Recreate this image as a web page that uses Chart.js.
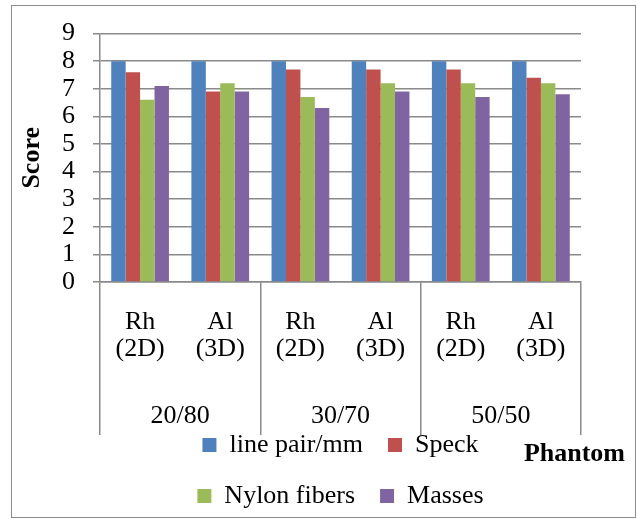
<!DOCTYPE html>
<html>
<head>
<meta charset="utf-8">
<script src="https://cdn.jsdelivr.net/npm/chart.js@4/dist/chart.umd.min.js"></script>
<style>
  html, body { margin: 0; padding: 0; background: #ffffff; }
  #wrap { position: relative; width: 637px; height: 519px; }
  #frame {
    position: absolute; left: 11px; top: 5px; width: 625px; height: 513px;
    box-sizing: border-box; border: 1.5px solid #8c8c8c;
  }
  #c { position: absolute; left: 0; top: 0; }
</style>
</head>
<body>
<div id="wrap">
  <div id="frame"></div>
  <canvas id="c" width="637" height="519"></canvas>
</div>
<script>
// Anode/filter per phantom composition
const categories = [['Rh', '(2D)'], ['Al', '(3D)'], ['Rh', '(2D)'], ['Al', '(3D)'], ['Rh', '(2D)'], ['Al', '(3D)']];
const phantomGroups = ['20/80', '30/70', '50/50'];
const yTickStep = 1;

// Scores per test object
const linePair = [8, 8, 8, 8, 8, 8];
const speck = [7.6, 6.9, 7.7, 7.7, 7.7, 7.4];
const nylonFibers = [6.6, 7.2, 6.7, 7.2, 7.2, 7.2];
const masses = [7.1, 6.9, 6.3, 6.9, 6.7, 6.8];

const serif = "'Liberation Serif', 'Times New Roman', Times, 'DejaVu Serif', serif";
const gridGray = '#8a8a8a';

Chart.defaults.font.family = serif;
Chart.defaults.font.weight = 'normal';
Chart.defaults.color = '#000';

new Chart(document.getElementById('c'), {
  type: 'bar',
  data: {
    labels: categories,
    datasets: [
      { label: 'line pair/mm', data: linePair, backgroundColor: '#4F81BD' },
      { label: 'Speck', data: speck, backgroundColor: '#C0504D' },
      { label: 'Nylon fibers', data: nylonFibers, backgroundColor: '#9BBB59' },
      { label: 'Masses', data: masses, backgroundColor: '#8064A2' }
    ]
  },
  options: {
    responsive: false,
    animation: false,
    devicePixelRatio: 1,
    layout: { padding: { top: 32, left: 13, right: 12, bottom: 0 } },
    datasets: { bar: { categoryPercentage: 0.72, barPercentage: 1.0, borderWidth: 0 } },
    scales: {
      x: {
        type: 'category',
        position: 'bottom',
        offset: true,
        grid: {
          offset: true,
          drawOnChartArea: false,
          drawTicks: true,
          tickLength: 153,
          lineWidth: 1.5,
          // separators only between phantom groups
          color: ctx => (ctx.index === undefined || ctx.index % 2 === 0) ? gridGray : 'rgba(0,0,0,0)'
        },
        border: { display: true, color: gridGray, width: 1.5 },
        ticks: {
          color: '#000',
          font: { family: serif, size: 26, weight: 'normal', lineHeight: 1.05 },
          padding: -126.65,
          maxRotation: 0,
          autoSkip: false
        },
        afterFit: scale => { scale.height = 100; }
      },
      x2: {
        type: 'category',
        position: 'bottom',
        labels: phantomGroups,
        offset: true,
        grid: { display: false, drawTicks: false },
        border: { display: false },
        ticks: {
          color: '#000',
          font: { family: serif, size: 26, weight: 'normal', lineHeight: 1.2 },
          mirror: true,
          padding: -49.6,
          maxRotation: 0,
          autoSkip: false
        },
        afterFit: scale => { scale.height = 25; }
      },
      y: {
        min: 0,
        max: 9,
        grid: { color: gridGray, lineWidth: 1.5, drawTicks: true, tickLength: 7 },
        border: { display: true, color: gridGray, width: 1.5 },
        ticks: {
          stepSize: yTickStep,
          autoSkip: false,
          color: '#000',
          font: { family: serif, size: 26, weight: 'normal' },
          padding: 18
        },
        title: {
          display: true,
          text: 'Score',
          color: '#000',
          font: { family: serif, size: 26, weight: 'bold', lineHeight: 1.2 },
          padding: { top: 4, bottom: 4 }
        },
        afterFit: scale => { scale.width = 87; }
      },
      yRight: {
        type: 'linear',
        position: 'right',
        display: true,
        grid: { display: false },
        border: { display: false },
        ticks: { display: false },
        afterFit: scale => { scale.width = 44; }
      }
    },
    plugins: {
      legend: {
        display: true,
        position: 'bottom',
        fullSize: false,
        labels: {
          color: '#000',
          font: { family: serif, size: 26, weight: 'normal' },
          boxWidth: 14,
          boxHeight: 14,
          padding: 25
        }
      },
      title: {
        display: true,
        position: 'bottom',
        align: 'end',
        text: 'Phantom',
        color: '#000',
        font: { family: serif, size: 26, weight: 'bold', lineHeight: 1.2 },
        padding: { top: -80.6, bottom: 49.4 }
      },
      tooltip: { enabled: false }
    }
  }
});
</script>
</body>
</html>
